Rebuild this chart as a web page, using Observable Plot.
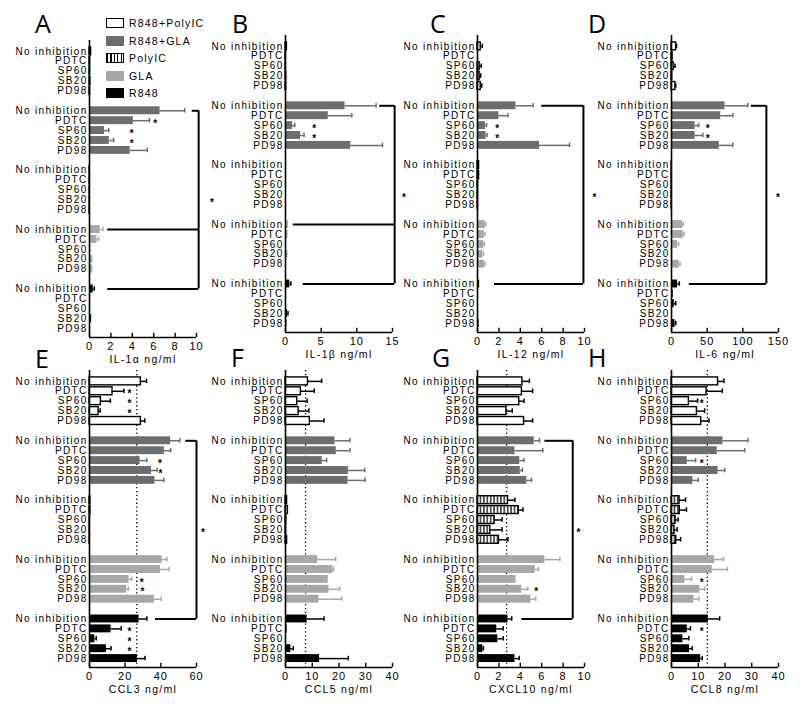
<!DOCTYPE html>
<html><head><meta charset="utf-8">
<script src="https://cdn.jsdelivr.net/npm/d3@7"></script>
<script src="https://cdn.jsdelivr.net/npm/@observablehq/plot@0.6"></script>
<style>
html,body{margin:0;padding:0;background:#fff;overflow:hidden;}
#root{position:relative;width:800px;height:712px;font-family:"Liberation Sans",Arial,sans-serif;}
.panel{position:absolute;}
svg.panel text{font-family:"Liberation Sans",Arial,sans-serif !important;letter-spacing:1.3px;}
svg.panel g[aria-label="x-axis tick label"] text{font-size:11px;letter-spacing:1px;}
.lg{position:absolute;font-family:"Liberation Sans",Arial,sans-serif;font-size:10.5px;letter-spacing:1.2px;color:#000;line-height:12px;}
.sw{position:absolute;width:18px;height:10px;box-sizing:border-box;}
</style></head><body>
<svg width="0" height="0" style="position:absolute"><defs>
<pattern id="hatch" width="3.4" height="10" patternUnits="userSpaceOnUse">
<rect width="3.4" height="10" fill="#fff"/><line x1="1.7" y1="0" x2="1.7" y2="10" stroke="#000" stroke-width="1.2"/>
</pattern></defs></svg>
<div id="root"></div>
<script>
const groups = ["R848+PolyIC", "R848+GLA", "PolyIC", "GLA", "R848"];
const inhibitors = ["No inhibition", "PDTC", "SP60", "SB20", "PD98"];
const groupFill = ["#ffffff", "#6d6d6d", "url(#hatch)", "#a7a7a7", "#000000"];
const groupStroke = ["#000", "none", "#000", "none", "none"];
const errColor = ["#000", "#6d6d6d", "#000", "#a7a7a7", "#000"];
const _ = null;

// A: IL-1alpha
const il1aMean = [0.15,0.05,0.05,0.08,0.05, 6.6,4.1,1.4,1.85,3.8, 0.02,0.02,0.02,0.02,0.02, 1.0,0.7,0.15,0.3,0.3, 0.35,0.1,0.1,0.2,0.1];
const il1aErr  = [_,_,_,_,_, 8.9,5.6,1.8,2.25,5.4, _,_,_,_,_, 1.25,0.85,_,_,_, 0.45,_,_,_,_];
const il1aTicks = [0,2,4,6,8,10];
const il1aStars = [[1,1,6.2],[1,2,4.0],[1,3,4.0]];
const il1aBracket = {x: 10.2, rows: [[1,9.6],[3,1.7],[4,1.7]], star: 11.5};

// B: IL-1beta
const il1bMean = [0.2,0.05,0.05,0.1,0.1, 8.35,6.0,1.0,2.1,9.15, 0,0,0,0,0, 0.4,0.35,0.1,0.35,0.1, 0.6,0.1,0.1,0.3,0.2];
const il1bErr  = [_,_,_,_,_, 12.7,9.3,1.3,2.6,13.6, _,_,_,_,_, _,_,_,_,_, 0.75,_,_,0.35,_];
const il1bTicks = [0,5,10,15];
const il1bStars = [[1,2,4.1],[1,3,4.1]];
const il1bBracket = {x: 15.3, rows: [[1,13.2],[3,1.1],[4,2.5]], star: 16.7};

// C: IL-12
const il12Mean = [0.3,0,0.2,0.2,0.3, 3.6,2.0,0.75,0.8,5.8, 0.15,0.15,0.05,0.05,0.05, 0.73,0.63,0.6,0.5,0.65, 0.2,0.05,0.05,0.1,0.15];
const il12Err  = [0.45,_,0.35,0.3,0.4, 5.2,2.85,0.85,0.9,8.6, _,_,_,_,_, 0.8,0.7,0.65,0.55,0.7, _,_,_,_,_];
const il12Ticks = [0,2,4,6,8,10];
const il12Stars = [[1,2,1.9],[1,3,1.9]];
const il12Bracket = {x: 9.9, rows: [[1,6.0],[4,1.6]], star: 11.0};

// D: IL-6
const il6Mean = [6.5,1.5,3,1,5.5, 75,69,33,33,67, 0.5,0.5,0.5,0.5,0.5, 15.5,16.5,8.5,2,11, 8.5,2.5,4,1.5,5];
const il6Err  = [7,_,5,_,6, 107,86,38,44,86, _,_,_,_,_, 16.5,17.5,10,_,12, 11,_,6,_,6];
const il6Ticks = [0,50,100,150];
const il6Stars = [[1,2,51.5],[1,3,51.5]];
const il6Bracket = {x: 133, rows: [[1,112],[4,25]], star: 150};

// E: CCL3
const ccl3Mean = [28.8,12.9,6.4,5.1,28.8, 45.5,42,28.4,34.8,36.7, 0.5,0.5,0.2,0.2,0.2, 40.7,39.8,22.2,20.8,36.4, 27.8,12.1,3.0,9.5,26.9];
const ccl3Err  = [32,19.3,11.7,6,31, 50.6,45.5,32.2,37.9,41.7, _,_,_,_,_, 43.4,44.5,23.7,21.8,40.2, 32.2,17.8,3.8,12.1,31.1];
const ccl3Ticks = [0,20,40,60];
const ccl3Stars = [[0,1,22.7],[0,2,22.7],[0,3,22.7],[1,2,39.8],[1,3,40.2],[3,2,29.7],[3,3,30.1],[4,1,22.7],[4,2,22.7],[4,3,22.7]];
const ccl3Bracket = {x: 60, rows: [[1,54],[4,37]], star: 64};
const ccl3Ref = 26.5;

// F: CCL5
const ccl5Mean = [8.4,5.75,4.4,4.9,9.1, 18.5,19,13.75,23.5,23.4, 0.6,0.9,0.3,0.2,0.6, 12,17.75,16,16.25,12.5, 8.1,0.6,0.3,2.0,12.75];
const ccl5Err  = [13.5,10.75,8.1,8.75,14.4, 24.1,24.1,15.4,29.6,29.75, _,_,_,_,_, 18.75,18,_,20.25,21, 14.4,_,_,2.9,23.5];
const ccl5Ticks = [0,10,20,30,40];
const ccl5Ref = 7.5;

// G: CXCL10
const cxcl10Mean = [4.2,4.15,3.9,2.7,4.35, 5.3,3.5,3.95,4.0,4.6, 2.85,3.85,1.6,1.2,2.0, 6.3,5.4,3.6,4.15,5.0, 2.85,1.8,1.9,0.5,3.5];
const cxcl10Err  = [4.85,5.15,4.35,3.25,5.15, 5.8,6.1,4.35,4.2,5.05, 3.5,4.25,2.3,2.3,2.85, 7.7,5.7,_,4.7,5.45, 3.2,2.4,2.4,0.55,3.9];
const cxcl10Ticks = [0,2,4,6,8,10];
const cxcl10Stars = [[3,3,5.55]];
const cxcl10Bracket = {x: 8.9, rows: [[1,6.3],[4,4.15]], star: 9.5};
const cxcl10Ref = 2.72;

// H: CCL8
const ccl8Mean = [17.4,13.1,6.5,9.5,11.1, 19.25,17.1,5.9,17.4,8, 3,3.1,1.5,1.1,1.75, 16.1,15.25,5,10.6,8.4, 13.75,5.9,4.25,6.75,10.9];
const ccl8Err  = [19.6,19,9.75,12.4,14, 28.6,27.4,9,19.9,10, 5.25,5.6,2.5,2.1,3.4, 19.4,20.9,7.5,12.4,10.25, 18,7.1,6.5,7.75,11.5];
const ccl8Ticks = [0,10,20,30,40];
const ccl8Stars = [[0,2,11.5],[1,2,11.5],[3,2,11.5],[4,1,11.5]];
const ccl8Ref = 13.4;

const panels = [
  {id:"A", col:0, row:0, top:40, mean:il1aMean, err:il1aErr, ticks:il1aTicks, label:"IL-1α ng/ml", stars:il1aStars, bracket:il1aBracket},
  {id:"B", col:1, row:0, top:35, mean:il1bMean, err:il1bErr, ticks:il1bTicks, label:"IL-1β ng/ml", stars:il1bStars, bracket:il1bBracket},
  {id:"C", col:2, row:0, top:35, mean:il12Mean, err:il12Err, ticks:il12Ticks, label:"IL-12 ng/ml", stars:il12Stars, bracket:il12Bracket},
  {id:"D", col:3, row:0, top:35, mean:il6Mean, err:il6Err, ticks:il6Ticks, label:"IL-6 ng/ml", stars:il6Stars, bracket:il6Bracket},
  {id:"E", col:0, row:1, top:370, mean:ccl3Mean, err:ccl3Err, ticks:ccl3Ticks, label:"CCL3 ng/ml", stars:ccl3Stars, bracket:ccl3Bracket, ref:ccl3Ref},
  {id:"F", col:1, row:1, top:370, mean:ccl5Mean, err:ccl5Err, ticks:ccl5Ticks, label:"CCL5 ng/ml", stars:[], bracket:null, ref:ccl5Ref},
  {id:"G", col:2, row:1, top:370, mean:cxcl10Mean, err:cxcl10Err, ticks:cxcl10Ticks, label:"CXCL10 ng/ml", stars:cxcl10Stars, bracket:cxcl10Bracket, ref:cxcl10Ref},
  {id:"H", col:3, row:1, top:370, mean:ccl8Mean, err:ccl8Err, ticks:ccl8Ticks, label:"CCL8 ng/ml", stars:ccl8Stars, bracket:null, ref:ccl8Ref}
];

const zeroX = [89, 285, 477, 671];
const plotW = 107, plotH = 297, mL = 90, mR = 32;
const rowTop = [0, 355], rowH = [372, 357];
const yLo = -1.1, yHi = 28.9;
const root = document.getElementById("root");

function drawPanel(cfg) {
  const rows = [];
  groups.forEach((g, gi) => inhibitors.forEach((inh, ii) => {
    const k = gi * 5 + ii;
    rows.push({g: gi, p: gi * 6 + ii, v: cfg.mean[k], e: cfg.err[k], name: inh});
  }));
  const labelOf = new Map(rows.map(d => [d.p, d.name]));
  const marks = [];
  if (cfg.ref != null) marks.push(Plot.ruleX([cfg.ref], {x: d => d, stroke: "#000", strokeWidth: 1.3, strokeDasharray: "1.3,2.6"}));
  groups.forEach((g, gi) => {
    const data = rows.filter(d => d.g === gi);
    marks.push(Plot.rect(data, {x1: () => 0, x2: "v", y1: d => d.p - 0.4, y2: d => d.p + 0.4,
      fill: groupFill[gi], stroke: groupStroke[gi], strokeWidth: 1.4}));
    const er = data.filter(d => d.e != null && d.e > d.v);
    marks.push(Plot.ruleY(er, {y: "p", x1: "v", x2: "e", stroke: errColor[gi], strokeWidth: 1.5}));
    marks.push(Plot.ruleX(er, {x: "e", y1: d => d.p - 0.23, y2: d => d.p + 0.23, stroke: errColor[gi], strokeWidth: 1.5}));
  });
  marks.push(Plot.text(cfg.stars, {x: d => d[2], y: d => d[0] * 6 + d[1], text: () => "*", fontSize: 10, fontWeight: "bold", fill: "#000", dy: 3}));
  if (cfg.bracket) {
    const b = cfg.bracket;
    const ps = b.rows.map(d => d[0] * 6);
    marks.push(Plot.ruleY(b.rows, {y: d => d[0] * 6, x1: d => d[1], x2: () => b.x, stroke: "#000", strokeWidth: 2}));
    marks.push(Plot.ruleX([b.x], {x: d => d, y1: () => d3.min(ps), y2: () => d3.max(ps), stroke: "#000", strokeWidth: 2}));
    marks.push(Plot.text([b.star], {x: d => d, y: () => (d3.min(ps) + d3.max(ps)) / 2, text: () => "*", fontSize: 10, fontWeight: "bold", fill: "#000", dy: 3}));
  }
  marks.push(Plot.ruleX([0], {x: d => d, stroke: "#000", strokeWidth: 1.6}));
  marks.push(Plot.ruleY([yHi], {y: d => d, stroke: "#000", strokeWidth: 1.6}));
  marks.push(Plot.ruleX(cfg.ticks, {x: d => d, y1: () => yHi, y2: () => yHi - 0.42, stroke: "#000", strokeWidth: 1.4}));
  marks.push(Plot.text([cfg.label], {text: d => d, frameAnchor: "bottom", dy: 25, fontSize: 10.5, fill: "#000"}));

  const top = rowTop[cfg.row], H = rowH[cfg.row];
  const marginTop = cfg.top - top;
  const marginBottom = H - (cfg.top + plotH - top);
  const svg = Plot.plot({
    width: mL + plotW + mR, height: H,
    marginLeft: mL, marginRight: mR, marginTop, marginBottom,
    style: {background: "transparent", overflow: "visible", fontSize: "10px", color: "#000"},
    x: {domain: [0, cfg.ticks[cfg.ticks.length - 1]], ticks: cfg.ticks, tickSize: 0, tickPadding: 5, label: null},
    y: {domain: [yHi, yLo], ticks: rows.map(d => d.p), tickFormat: p => labelOf.get(p), tickSize: 0, tickPadding: 2, label: null},
    marks
  });
  svg.classList.add("panel");
  svg.style.left = (zeroX[cfg.col] - mL) + "px";
  svg.style.top = top + "px";
  svg.style.position = "absolute";
  root.appendChild(svg);
}
panels.forEach(drawPanel);

// panel letters
const letterPos = {A:[35,33], B:[232,33], C:[430,33], D:[588,33], E:[35,368], F:[231,367], G:[432,367], H:[588,367]};
const ns = "http://www.w3.org/2000/svg";
const ov = document.createElementNS(ns, "svg");
ov.setAttribute("width", 800); ov.setAttribute("height", 712);
ov.style.position = "absolute"; ov.style.left = "0px"; ov.style.top = "0px"; ov.style.pointerEvents = "none";
panels.forEach(p => {
  const t = document.createElementNS(ns, "text");
  t.setAttribute("x", letterPos[p.id][0]); t.setAttribute("y", letterPos[p.id][1]);
  t.setAttribute("font-family", "'Open Sans', 'Noto Sans', sans-serif");
  t.setAttribute("font-size", "25"); t.textContent = p.id;
  ov.appendChild(t);
});
root.appendChild(ov);

// legend
const legendY = [22.5, 40.5, 58, 75.5, 92.5];
groups.forEach((g, gi) => {
  const sw = document.createElement("div");
  sw.className = "sw";
  sw.style.left = "106px"; sw.style.top = (legendY[gi] - 5) + "px";
  if (gi === 0) { sw.style.background = "#fff"; sw.style.border = "1.5px solid #000"; }
  else if (gi === 2) { sw.style.background = "repeating-linear-gradient(90deg,#000 0 1.2px,#fff 1.2px 3.4px)"; sw.style.border = "1.5px solid #000"; }
  else sw.style.background = groupFill[gi];
  root.appendChild(sw);
  const t = document.createElement("div");
  t.className = "lg"; t.textContent = g;
  t.style.left = "129px"; t.style.top = (legendY[gi] - 6) + "px";
  root.appendChild(t);
});
</script>
</body></html>
